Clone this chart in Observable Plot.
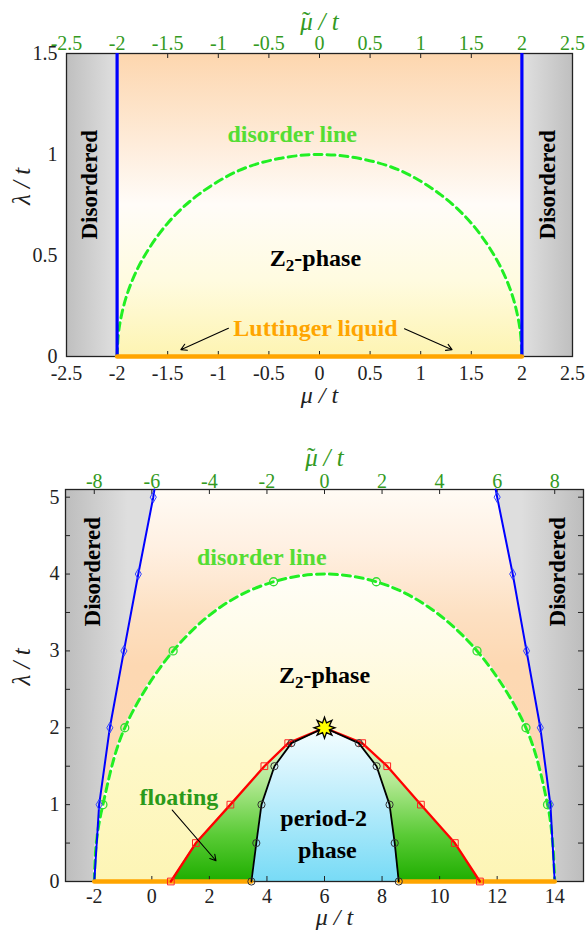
<!DOCTYPE html>
<html><head><meta charset="utf-8">
<script src="https://cdn.jsdelivr.net/npm/d3@7"></script>
<script src="https://cdn.jsdelivr.net/npm/@observablehq/plot@0.6"></script>
<style>
html,body{margin:0;padding:0;background:#fff;}
#wrap{position:relative;width:585px;height:931px;overflow:hidden;}
#top{position:absolute;left:0;top:0;}
#bot{position:absolute;left:0;top:420px;}
svg text{font-family:'Liberation Serif','Times New Roman',serif !important;}
</style></head><body>
<div id="wrap"><div id="top"></div><div id="bot"></div></div>
<script>
// ================= DATA: top panel =================
const topXTicks = [-2.5, -2, -1.5, -1, -0.5, 0, 0.5, 1, 1.5, 2, 2.5];
const topYTicks = [0, 0.5, 1, 1.5];
const topCriticalMu = [-2, 2];                 // blue vertical transition lines
const topLuttingerMu = [-2, 2];                // orange Luttinger-liquid segment at lambda = 0
const topDisorderMu  = [-2, -1.98, -1.9, -1.75, -1.5, -1.2, -0.8, -0.4, 0, 0.4, 0.8, 1.2, 1.5, 1.75, 1.9, 1.98, 2];
const topDisorderLam = [0, 0.14, 0.31, 0.48, 0.66, 0.80, 0.92, 0.98, 1, 0.98, 0.92, 0.80, 0.66, 0.48, 0.31, 0.14, 0];
const topNotes = [
  {key: "disL", text: "Disordered", mu: -2.27, lam: 0.85},
  {key: "disR", text: "Disordered", mu: 2.25, lam: 0.85},
  {key: "dline", text: "disorder line", mu: -0.27, lam: 1.10},
  {key: "z2", text: "Z2-phase", mu: -0.04, lam: 0.485},
  {key: "ll", text: "Luttinger liquid", mu: -0.04, lam: 0.14}
];
const topArrowFrom = [[-0.90, 0.14], [0.84, 0.137]];
const topArrowTo   = [[-1.37, 0.034], [1.31, 0.034]];

// ================= DATA: bottom panel =================
const botXTicks = [-2, 0, 2, 4, 6, 8, 10, 12, 14];
const botTopOffset = 6;                         // mu~ = mu - 6
const botYTicks = [0, 1, 2, 3, 4, 5];
const botYMinor = [0, 0.5, 1, 1.5, 2, 2.5, 3, 3.5, 4, 4.5, 5];
const blueLam     = [0, 1, 2, 3, 4, 5, 5.1];
const blueLeftMu  = [-2, -1.83, -1.46, -0.97, -0.47, 0.05, 0.09];
const blueRightMu = [14, 13.85, 13.5, 13.02, 12.54, 12.0, 11.95];
const blueMarkerLam = [1, 2, 3, 4, 5];
const disorderMu  = [-2, -1.93, -1.70, -0.94, 0.74, 2.5, 4.23, 6, 7.8, 9.5, 11.3, 13.0, 13.75, 13.93, 14];
const disorderLam = [0, 0.5, 1, 2, 3, 3.6, 3.9, 4, 3.9, 3.6, 3, 2, 1, 0.5, 0];
const disorderMarkMu  = [-1.70, -0.94, 0.74, 4.23, 7.8, 11.3, 13.0, 13.75];
const disorderMarkLam = [1, 2, 3, 3.9, 3.9, 3, 2, 1];
const floatMu  = [0.66, 1.53, 2.73, 3.91, 4.74, 6, 7.31, 8.18, 9.35, 10.53, 11.40];
const floatLam = [0, 0.5, 1, 1.5, 1.8, 2, 1.8, 1.5, 1, 0.5, 0];
const p2Mu  = [3.46, 3.63, 3.81, 4.26, 4.85, 6, 7.19, 7.81, 8.26, 8.44, 8.58];
const p2Lam = [0, 0.5, 1, 1.5, 1.8, 2, 1.8, 1.5, 1, 0.5, 0];
const tricritical = [{mu: 6, lam: 2}];
const botLuttinger = [[-2, 3.46], [8.58, 14]];
const botNotes = [
  {key: "disL", text: "Disordered", mu: -2.07, lam: 4.03},
  {key: "disR", text: "Disordered", mu: 14.09, lam: 4.03},
  {key: "dline", text: "disorder line", mu: 3.82, lam: 4.22},
  {key: "z2", text: "Z2-phase", mu: 6, lam: 2.68},
  {key: "float", text: "floating", mu: 0.94, lam: 1.10},
  {key: "p2", text: "period-2", mu: 5.97, lam: 0.82},
  {key: "ph", text: "phase", mu: 6.1, lam: 0.40}
];
const botArrowFrom = [[0.71, 0.93]];
const botArrowTo   = [[2.23, 0.27]];

// ================= helpers =================
const serif = "'Liberation Serif', 'Times New Roman', serif";
const fmt = d => String(d);
const W = 585;
const MU_TILDE = "μ̃ / t";
const pick = (notes, keys) => notes.filter(d => keys.includes(d.key));
const burst = {
  draw(ctx, size) {
    const R = Math.sqrt(size / Math.PI), r = R * 0.5;
    for (let i = 0; i < 16; ++i) {
      const a = Math.PI * i / 8 - Math.PI / 2, rr = i % 2 ? r : R;
      const px = rr * Math.cos(a), py = rr * Math.sin(a);
      if (i === 0) ctx.moveTo(px, py); else ctx.lineTo(px, py);
    }
    ctx.closePath();
  }
};
function richText(svg) {
  d3.select(svg).selectAll("text").each(function () {
    const t = d3.select(this);
    if (this.textContent === "Z2-phase") {
      t.text("");
      t.append("tspan").text("Z");
      t.append("tspan").attr("font-size", "17px").attr("dy", "5").text("2");
      t.append("tspan").attr("dy", "-5").text("-phase");
    } else if (this.textContent === MU_TILDE) {
      t.text("");
      t.append("tspan").text("μ");
      t.append("tspan").attr("dx", "-11").attr("dy", "-1").style("font-style", "normal").text("˜");
      t.append("tspan").attr("dx", "2").attr("dy", "1").text(" / t");
    }
  });
}
function addDefs(svg, html) { d3.select(svg).insert("defs", ":first-child").html(html); }

// ================= top panel =================
const T = {h: 420, mt: 53, mb: 64, ml: 66, mr: 13};
const TH = T.h - T.mt - T.mb;
const topDisorder = topDisorderMu.map((m, i) => ({mu: m, lam: topDisorderLam[i]}));
const topLL = topLuttingerMu.map(m => ({mu: m, lam: 0}));
const topArrows = topArrowFrom.map((f, i) => ({x1: f[0], y1: f[1], x2: topArrowTo[i][0], y2: topArrowTo[i][1]}));

const topPlot = Plot.plot({
  width: W, height: T.h, marginTop: T.mt, marginBottom: T.mb, marginLeft: T.ml, marginRight: T.mr,
  x: {domain: [-2.5, 2.5], label: null},
  y: {domain: [0, 1.5], label: null},
  style: {fontFamily: serif, fontSize: "20px", background: "transparent", color: "#222"},
  marks: [
    Plot.frame({fill: "url(#tGray)", stroke: null}),
    Plot.rect([topCriticalMu], {x1: d => d[0], x2: d => d[1], fill: "url(#tOrd)"}),
    Plot.tickX(topXTicks, {x: d => d, insetTop: TH - 5, stroke: "#222"}),
    Plot.tickX(topXTicks, {x: d => d, insetBottom: TH - 5, stroke: "#222"}),
    Plot.frame({stroke: "#222", strokeWidth: 1.3}),
    Plot.line(topDisorder, {x: "mu", y: "lam", curve: "catmull-rom", stroke: "white", strokeWidth: 3}),
    Plot.line(topDisorder, {x: "mu", y: "lam", curve: "catmull-rom", stroke: "#22ee22", strokeWidth: 3, strokeDasharray: "8,5"}),
    Plot.ruleX(topCriticalMu, {stroke: "#0000ff", strokeWidth: 3.2}),
    Plot.line(topLL, {x: "mu", y: "lam", stroke: "#ffa500", strokeWidth: 4.5}),
    Plot.axisX(topXTicks, {anchor: "bottom", tickSize: 0, tickPadding: 9.5, tickFormat: fmt, label: null}),
    Plot.axisX(topXTicks, {anchor: "top", tickSize: 0, tickPadding: 4, tickFormat: fmt, label: null, color: "#339a22"}),
    Plot.axisY(topYTicks, {anchor: "left", tickSize: 0, tickPadding: 9, tickFormat: fmt, label: null}),
    Plot.text([MU_TILDE], {frameAnchor: "top", lineAnchor: "middle", dy: -32, fill: "#339a22", fontSize: 25, fontStyle: "italic"}),
    Plot.text(["μ / t"], {frameAnchor: "bottom", lineAnchor: "middle", dy: 39, fill: "#222", fontSize: 24, fontStyle: "italic"}),
    Plot.text(["λ / t"], {frameAnchor: "left", lineAnchor: "middle", dx: -45, rotate: -90, fill: "#222", fontSize: 25, fontStyle: "italic"}),
    Plot.text(pick(topNotes, ["disL", "disR"]), {x: "mu", y: "lam", text: "text", rotate: -90, fontSize: 23, fontWeight: "bold", fill: "black"}),
    Plot.text(pick(topNotes, ["dline"]), {x: "mu", y: "lam", text: "text", fontSize: 24, fontWeight: "bold", fill: "#55dd33"}),
    Plot.text(pick(topNotes, ["z2"]), {x: "mu", y: "lam", text: "text", fontSize: 24, fontWeight: "bold", fill: "black"}),
    Plot.text(pick(topNotes, ["ll"]), {x: "mu", y: "lam", text: "text", fontSize: 24, fontWeight: "bold", fill: "#ffa500"}),
    Plot.arrow(topArrows, {x1: "x1", y1: "y1", x2: "x2", y2: "y2", stroke: "black", strokeWidth: 1.1, headLength: 9})
  ]
});
addDefs(topPlot, `
<linearGradient id="tGray" x1="0" x2="1" y1="0" y2="0">
 <stop offset="0" stop-color="#bfbfbf"/><stop offset="0.1" stop-color="#e0e0e0"/>
 <stop offset="0.9" stop-color="#e0e0e0"/><stop offset="1" stop-color="#bfbfbf"/>
</linearGradient>
<linearGradient id="tOrd" x1="0" x2="0" y1="0" y2="1">
 <stop offset="0" stop-color="#fdd6ae"/><stop offset="0.3" stop-color="#feecda"/>
 <stop offset="0.5" stop-color="#fffcf8"/><stop offset="0.75" stop-color="#fffbe0"/>
 <stop offset="1" stop-color="#fdf4b2"/>
</linearGradient>`);
richText(topPlot);
document.getElementById("top").appendChild(topPlot);

// ================= bottom panel =================
const B = {h: 511, mt: 69, mb: 50, ml: 65, mr: 2};
const BH = B.h - B.mt - B.mb, BW = W - B.ml - B.mr;
const blue = blueLam.map((l, i) => ({lam: l, left: blueLeftMu[i], right: blueRightMu[i]}));
const blueMarks = blue.filter(d => blueMarkerLam.includes(d.lam));
const disorder = disorderMu.map((m, i) => ({mu: m, lam: disorderLam[i]}));
const disorderMarks = disorderMarkMu.map((m, i) => ({mu: m, lam: disorderMarkLam[i]}));
const floating = floatMu.map((m, i) => ({mu: m, lam: floatLam[i]}));
const period2 = p2Mu.map((m, i) => ({mu: m, lam: p2Lam[i]}));
const notStar = d => !(d.mu === tricritical[0].mu && d.lam === tricritical[0].lam);
const botLL = botLuttinger.flatMap((s, k) => s.map(m => ({mu: m, lam: 0, seg: k})));
const botArrows = botArrowFrom.map((f, i) => ({x1: f[0], y1: f[1], x2: botArrowTo[i][0], y2: botArrowTo[i][1]}));

const botPlot = Plot.plot({
  width: W, height: B.h, marginTop: B.mt, marginBottom: B.mb, marginLeft: B.ml, marginRight: B.mr,
  x: {domain: [-3, 15], label: null},
  y: {domain: [0, 5.1], label: null},
  style: {fontFamily: serif, fontSize: "20px", background: "transparent", color: "#222"},
  marks: [
    Plot.frame({fill: "url(#bGray)", stroke: null}),
    Plot.areaX(blue, {y: "lam", x1: "left", x2: "right", fill: "url(#bOrd)"}),
    Plot.areaY(disorder, {x: "mu", y: "lam", curve: "catmull-rom", fill: "url(#bIn)"}),
    Plot.areaY(floating, {x: "mu", y: "lam", fill: "url(#bGreen)"}),
    Plot.areaY(period2, {x: "mu", y: "lam", fill: "url(#bBlue)"}),
    Plot.tickX(botXTicks, {x: d => d, insetTop: BH - 5, stroke: "#222"}),
    Plot.tickX(botXTicks, {x: d => d, insetBottom: BH - 5, stroke: "#222"}),
    Plot.tickY(botYMinor, {y: d => d, insetRight: BW - 5, stroke: "#222"}),
    Plot.tickY(botYMinor, {y: d => d, insetLeft: BW - 5, stroke: "#222"}),
    Plot.frame({stroke: "#222", strokeWidth: 1.3}),
    Plot.line(disorder, {x: "mu", y: "lam", curve: "catmull-rom", stroke: "white", strokeWidth: 3}),
    Plot.line(disorder, {x: "mu", y: "lam", curve: "catmull-rom", stroke: "#22ee22", strokeWidth: 3, strokeDasharray: "8,5"}),
    Plot.dot(disorderMarks, {x: "mu", y: "lam", r: 4, stroke: "#33dd33", strokeWidth: 1.3, fill: "none"}),
    Plot.line(blue, {x: "left", y: "lam", stroke: "#0000ff", strokeWidth: 2}),
    Plot.line(blue, {x: "right", y: "lam", stroke: "#0000ff", strokeWidth: 2}),
    Plot.line(botLL, {x: "mu", y: "lam", z: "seg", stroke: "#ffa500", strokeWidth: 4.5}),
    Plot.dot(blueMarks, {x: "left", y: "lam", symbol: "diamond", r: 3.2, stroke: "#3344ff", strokeWidth: 1, fill: "none"}),
    Plot.dot(blueMarks, {x: "right", y: "lam", symbol: "diamond", r: 3.2, stroke: "#3344ff", strokeWidth: 1, fill: "none"}),
    Plot.line(floating, {x: "mu", y: "lam", stroke: "#ff0000", strokeWidth: 2.3}),
    Plot.dot(floating.filter(notStar), {x: "mu", y: "lam", symbol: "square", r: 3.8, stroke: "#ff2222", strokeWidth: 1, fill: "none"}),
    Plot.line(period2, {x: "mu", y: "lam", stroke: "#000", strokeWidth: 1.8}),
    Plot.dot(period2.filter(notStar), {x: "mu", y: "lam", r: 3.6, stroke: "#333", strokeWidth: 1, fill: "none"}),
    Plot.dot(tricritical, {x: "mu", y: "lam", symbol: burst, r: 10.5, fill: "#ffff00", stroke: "#000", strokeWidth: 1.3}),
    Plot.axisX(botXTicks, {anchor: "bottom", tickSize: 0, tickPadding: 7, tickFormat: fmt, label: null}),
    Plot.axisX(botXTicks, {anchor: "top", tickSize: 0, tickPadding: 2, tickFormat: d => String(d - botTopOffset), label: null, color: "#339a22"}),
    Plot.axisY(botYTicks, {anchor: "left", tickSize: 0, tickPadding: 6, tickFormat: fmt, label: null}),
    Plot.text([MU_TILDE], {frameAnchor: "top", lineAnchor: "middle", dy: -32, fill: "#339a22", fontSize: 25, fontStyle: "italic"}),
    Plot.text(["μ / t"], {frameAnchor: "bottom", lineAnchor: "middle", dy: 36, dx: 10, fill: "#222", fontSize: 24, fontStyle: "italic"}),
    Plot.text(["λ / t"], {frameAnchor: "left", lineAnchor: "middle", dx: -44, rotate: -90, fill: "#222", fontSize: 25, fontStyle: "italic"}),
    Plot.text(pick(botNotes, ["disL", "disR"]), {x: "mu", y: "lam", text: "text", rotate: -90, fontSize: 23, fontWeight: "bold", fill: "black"}),
    Plot.text(pick(botNotes, ["dline"]), {x: "mu", y: "lam", text: "text", fontSize: 24, fontWeight: "bold", fill: "#55dd33"}),
    Plot.text(pick(botNotes, ["z2", "p2", "ph"]), {x: "mu", y: "lam", text: "text", fontSize: 24, fontWeight: "bold", fill: "black"}),
    Plot.text(pick(botNotes, ["float"]), {x: "mu", y: "lam", text: "text", fontSize: 24, fontWeight: "bold", fill: "#2a9a1a"}),
    Plot.arrow(botArrows, {x1: "x1", y1: "y1", x2: "x2", y2: "y2", stroke: "black", strokeWidth: 1.1, headLength: 9})
  ]
});
addDefs(botPlot, `
<linearGradient id="bGray" x1="0" x2="1" y1="0" y2="0">
 <stop offset="0" stop-color="#bdbdbd"/><stop offset="0.12" stop-color="#dedede"/>
 <stop offset="0.88" stop-color="#dedede"/><stop offset="1" stop-color="#bdbdbd"/>
</linearGradient>
<linearGradient id="bOrd" x1="0" x2="0" y1="0" y2="1">
 <stop offset="0" stop-color="#fffbf5"/><stop offset="0.15" stop-color="#fff0e2"/>
 <stop offset="0.32" stop-color="#fde0c2"/><stop offset="0.45" stop-color="#fdd8b2"/>
 <stop offset="1" stop-color="#fcd9b4"/>
</linearGradient>
<linearGradient id="bIn" x1="0" x2="0" y1="0" y2="1">
 <stop offset="0" stop-color="#fffef7"/><stop offset="0.25" stop-color="#fffbe6"/>
 <stop offset="0.6" stop-color="#fef8c8"/><stop offset="1" stop-color="#fdf5b5"/>
</linearGradient>
<linearGradient id="bGreen" x1="0" x2="0" y1="0" y2="1">
 <stop offset="0" stop-color="#ecfbe2"/><stop offset="0.35" stop-color="#b4e994"/>
 <stop offset="0.7" stop-color="#5acb36"/><stop offset="1" stop-color="#1fae00"/>
</linearGradient>
<linearGradient id="bBlue" x1="0" x2="0" y1="0" y2="1">
 <stop offset="0" stop-color="#f4feff"/><stop offset="0.3" stop-color="#d2f3fd"/>
 <stop offset="1" stop-color="#78dbf6"/>
</linearGradient>`);
richText(botPlot);
document.getElementById("bot").appendChild(botPlot);
</script>
</body></html>
